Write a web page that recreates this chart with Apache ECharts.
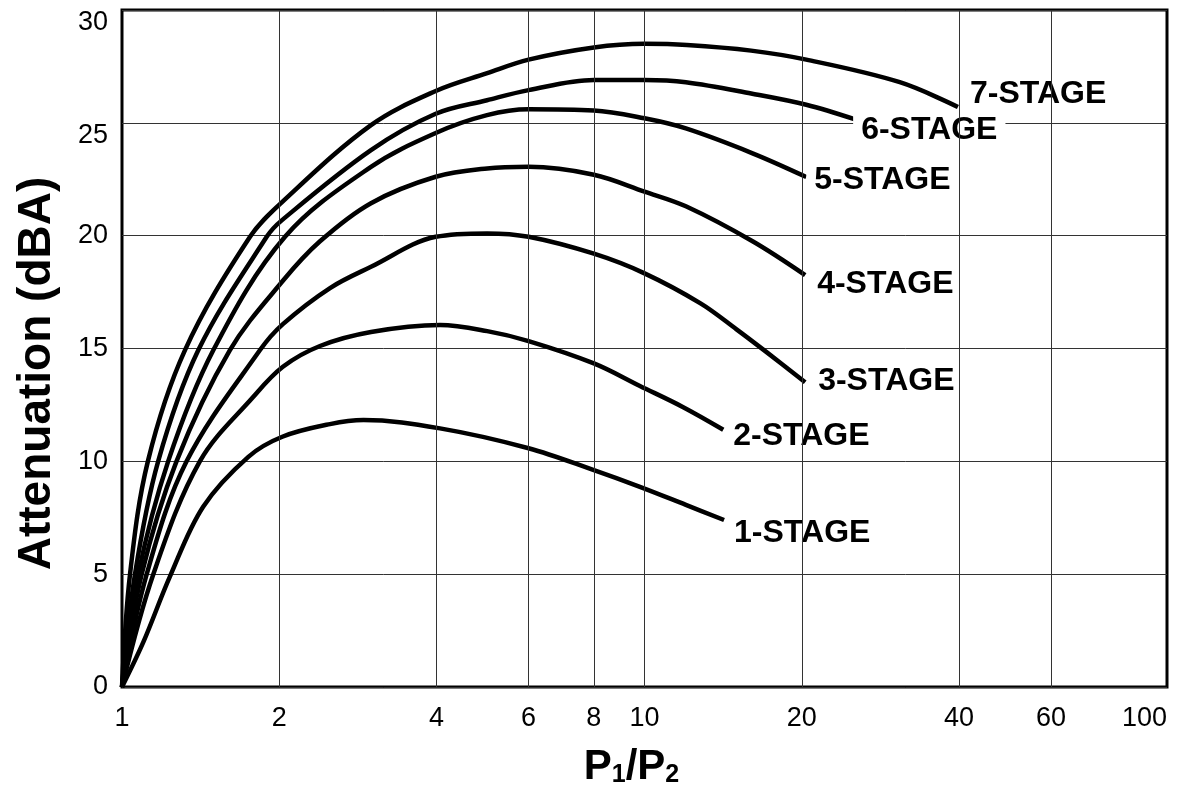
<!DOCTYPE html>
<html><head><meta charset="utf-8">
<script src="https://cdn.jsdelivr.net/npm/echarts@6/dist/echarts.min.js"></script>
<style>html,body{margin:0;padding:0;background:#fff}#c{width:1180px;height:787px}</style>
</head><body><div id="c"></div>
<script>
const FONT = "'Liberation Sans', Arial, Helvetica, sans-serif";

// ---- data ----
const xTicks = [1, 2, 4, 6, 8, 10, 20, 40, 60, 100];
const yTicks = [0, 5, 10, 15, 20, 25, 30];
const stageNames = ['1-STAGE', '2-STAGE', '3-STAGE', '4-STAGE', '5-STAGE', '6-STAGE', '7-STAGE'];

const stage1 = [[1,0],[1.1,2.02],[1.235,4.89],[1.43,7.99],[1.745,10.2],[2.027,11.09],[2.5,11.65],[2.899,11.83],[4.061,11.46],[6,10.58],[8,9.61],[9.8,8.87],[12,8.07],[14.2,7.4]];
const stage2 = [[1,0],[1.148,5.0],[1.41,10.01],[1.784,12.86],[2.032,14.19],[2.393,15.11],[2.996,15.73],[4.061,16.04],[5,15.77],[6,15.33],[8,14.34],[9.8,13.34],[11.86,12.4],[14.15,11.4]];
const stage3 = [[1,0],[1.115,5.0],[1.33,10.01],[1.837,14.93],[2.032,16.08],[2.501,17.68],[2.996,18.62],[3.985,19.95],[5,20.1],[6,19.95],[8,19.2],[10,18.33],[12.8,17.0],[15,15.85],[17.1,14.85],[20.3,13.5]];
const stage4 = [[1,0],[1.0906,5.0],[1.272,10.01],[1.609,14.93],[2.032,18.0],[2.393,19.75],[2.996,21.44],[3.985,22.61],[5,22.98],[6,23.05],[8,22.7],[10,21.95],[12,21.3],[16.1,19.75],[20.3,18.25]];
const stage5 = [[1,0],[1.0745,5.0],[1.226,10.01],[1.496,14.93],[2.051,19.95],[2.996,23.05],[3.985,24.55],[4.995,25.34],[6,25.6],[8,25.55],[10,25.2],[12,24.75],[16.1,23.65],[20.4,22.6]];
const stage6 = [[1,0],[1.059,5.0],[1.173,10.01],[1.4,14.93],[1.892,19.95],[2.027,20.7],[2.996,23.79],[3.985,25.4],[4.995,26.0],[6,26.45],[8,26.9],[10,26.9],[12,26.8],[16,26.3],[20.4,25.8],[25.3,25.15]];
const stage7 = [[1,0],[1.036,5.0],[1.121,10.01],[1.32,14.93],[1.758,19.95],[2.027,21.5],[2.996,24.9],[3.985,26.41],[5,27.2],[6,27.8],[8,28.34],[10,28.5],[12.05,28.45],[16,28.2],[20.4,27.8],[30.8,26.8],[39.8,25.7]];

const stageData = [stage1, stage2, stage3, stage4, stage5, stage6, stage7];
// label placement (style only)
const labelOffsets = [[2,13],[2,6],[5,-1],[4,9],[0,3],[-2,11],[4,-13]];

const chart = echarts.init(document.getElementById('c'), null, {renderer: 'canvas'});

const gridSeries = {
  type: 'line', name: 'grid', data: [[1, 0]], showSymbol: false, symbol: 'none',
  lineStyle: {width: 0, opacity: 0}, silent: true, z: 1, animation: false,
  markLine: {
    silent: true, symbol: ['none', 'none'], animation: false,
    lineStyle: {color: '#333', width: 1, type: 'solid'},
    label: {
      show: true, position: 'start', distance: 18,
      formatter: p => String(p.value),
      fontSize: 27, color: '#000', fontFamily: FONT
    },
    data: xTicks.map(v => {
      const item = {xAxis: v};
      if (v === 1 || v === 100) item.lineStyle = {color: 'rgba(0,0,0,0)'};
      if (v === 100) item.label = {align: 'right'};
      return item;
    })
  }
};

const stageSeries = stageNames.map((name, i) => ({
  type: 'line', name: name, data: stageData[i],
  smooth: 0.35, symbol: 'none', showSymbol: false, z: 3, animation: false,
  lineStyle: {color: '#000', width: 4.5},
  endLabel: {
    show: true, formatter: p => p.seriesName, distance: 0,
    offset: labelOffsets[i],
    fontSize: 32, fontWeight: 'bold', color: '#000', fontFamily: FONT,
    backgroundColor: '#fff', padding: [5, 8]
  }
}));

// top two labels sit a little below their grid lines in the original
function yLabel(v) {
  return (v >= 25) ? '\n' + v : String(v);
}

chart.setOption({
  animation: false,
  backgroundColor: '#fff',
  grid: {
    left: 122, right: 13, top: 10, bottom: 100,
    outerBoundsMode: 'none', containLabel: false,
    show: true, borderColor: '#000', borderWidth: 3, backgroundColor: 'transparent'
  },
  xAxis: {
    type: 'log', logBase: 10, min: xTicks[0], max: xTicks[xTicks.length - 1],
    axisLabel: {show: false}, axisTick: {show: false}, splitLine: {show: false},
    axisLine: {show: false}, minorTick: {show: false}, minorSplitLine: {show: false},
    name: '{p|P}{s|1}{p|/P}{s|2}', nameLocation: 'middle', nameGap: 59,
    nameTextStyle: {
      padding: [0, 26, 0, 0],
      rich: {
        p: {fontSize: 42, fontWeight: 'bold', color: '#000', fontFamily: FONT, lineHeight: 42},
        s: {fontSize: 25, fontWeight: 'bold', color: '#000', fontFamily: FONT, lineHeight: 30, verticalAlign: 'bottom'}
      }
    }
  },
  yAxis: {
    type: 'value', min: yTicks[0], max: yTicks[yTicks.length - 1], interval: 5,
    axisLine: {show: false}, axisTick: {show: false},
    splitLine: {show: true, lineStyle: {color: '#333', width: 1}},
    axisLabel: {margin: 14, fontSize: 27, lineHeight: 26, color: '#000', fontFamily: FONT, formatter: yLabel},
    name: 'Attenuation (dBA)', nameLocation: 'middle', nameRotate: 90, nameGap: 62,
    nameTextStyle: {fontSize: 46, fontWeight: 'bold', color: '#000', fontFamily: FONT, padding: [0, 50, 0, 0]}
  },
  series: [gridSeries].concat(stageSeries)
});
</script>
</body></html>
